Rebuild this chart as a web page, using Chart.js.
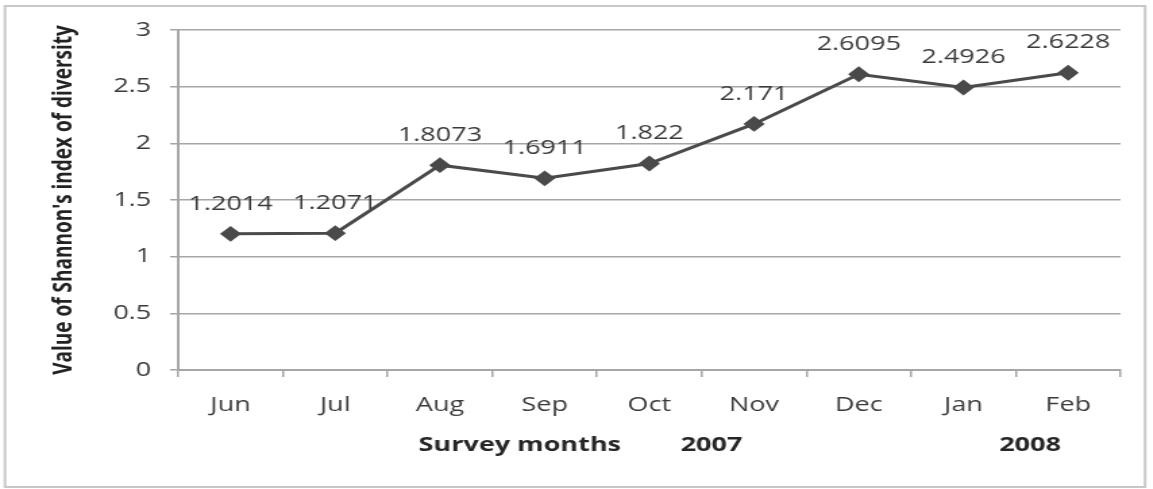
<!DOCTYPE html>
<html>
<head>
<meta charset="utf-8">
<script src="https://cdn.jsdelivr.net/npm/chart.js@4"></script>
<style>
  html,body{margin:0;padding:0;background:#fff;overflow:hidden;}
  /* the source picture is stretched sideways, so draw narrow and widen */
  #wrap{width:854px;height:489px;transform:scaleX(1.35);transform-origin:0 0;}
</style>
</head>
<body>
<div id="wrap"><canvas id="chart" width="854" height="489"></canvas></div>
<script>
const months = ['Jun','Jul','Aug','Sep','Oct','Nov','Dec','Jan','Feb'];
const shannonIndex = [1.2014, 1.2071, 1.8073, 1.6911, 1.822, 2.171, 2.6095, 2.4926, 2.6228];
const valueLabels = ['1.2014','1.2071','1.8073','1.6911','1.822','2.171','2.6095','2.4926','2.6228'];
const yTickLabels = ['0','0.5','1','1.5','2','2.5','3'];
const footTexts = ['Survey months','2007','2008'];

const FONT = "'Open Sans', 'Noto Sans', sans-serif";
const INK = '#3a3a3a';

// value labels above each point
const valueLabelPlugin = {
  id:'valueLabels',
  afterDatasetsDraw(chart){
    const ctx = chart.ctx;
    const meta = chart.getDatasetMeta(0);
    ctx.save();
    ctx.font = `20px ${FONT}`;
    ctx.fillStyle = INK;
    ctx.textAlign = 'center';
    ctx.textBaseline = 'middle';
    meta.data.forEach((pt,i)=>{ ctx.fillText(valueLabels[i], pt.x, pt.y - 30); });
    ctx.restore();
  }
};

// frame + footer texts under the month labels
const extrasPlugin = {
  id:'extras',
  beforeDraw(chart){
    const ctx = chart.ctx;
    ctx.save();
    ctx.strokeStyle = '#c8c8c8';
    ctx.lineWidth = 2;
    ctx.strokeRect(3.7, 6, 844.5, 481);
    ctx.restore();
  },
  afterDraw(chart){
    const ctx = chart.ctx;
    const xs = [385, 527, 763];
    ctx.save();
    ctx.font = `bold 20px ${FONT}`;
    ctx.fillStyle = '#262626';
    ctx.textAlign = 'center';
    ctx.textBaseline = 'middle';
    footTexts.forEach((t,i)=> ctx.fillText(t, xs[i], 445));
    ctx.restore();
  }
};

new Chart(document.getElementById('chart').getContext('2d'), {
  type:'line',
  data:{
    labels: months,
    datasets:[{
      data: shannonIndex,
      borderColor:'#4a4a4a',
      backgroundColor:'#4a4a4a',
      borderWidth:3,
      pointStyle:'rectRot',
      pointRadius:6.5,
      pointBorderWidth:2,
      pointBackgroundColor:'#4a4a4a',
      pointBorderColor:'#4a4a4a',
      tension:0,
      clip:false
    }]
  },
  options:{
    responsive:false,
    animation:false,
    devicePixelRatio:1,
    layout:{ padding:{ top:30, right:24, bottom:0, left:0 } },
    plugins:{ legend:{ display:false }, tooltip:{ enabled:false } },
    scales:{
      x:{
        offset:true,
        grid:{ display:true, offset:true, drawOnChartArea:false, drawTicks:true, tickLength:7, color:'#a6a6a6', lineWidth:1.5 },
        border:{ display:true, color:'#a6a6a6', width:2 },
        ticks:{ color:INK, font:{ family:FONT, size:20 }, padding:16, maxRotation:0 },
        afterFit(scale){ scale.height = 119; }
      },
      y:{
        min:0, max:3,
        ticks:{ stepSize:0.5, color:INK, font:{ family:FONT, size:20 }, padding:14,
                callback:(v,i)=> yTickLabels[i] },
        grid:{ color:'#a6a6a6', lineWidth:1.5, tickLength:6 },
        border:{ display:true, color:'#a6a6a6', width:2 },
        title:{ display:true, text:"Value of Shannon's index of diversity", color:'#222',
                font:{ family:FONT, size:19, weight:'bold' }, padding:{ top:36, bottom:0 } },
        afterFit(scale){ scale.width = 132; }
      }
    }
  },
  plugins:[valueLabelPlugin, extrasPlugin]
});
</script>
</body>
</html>
